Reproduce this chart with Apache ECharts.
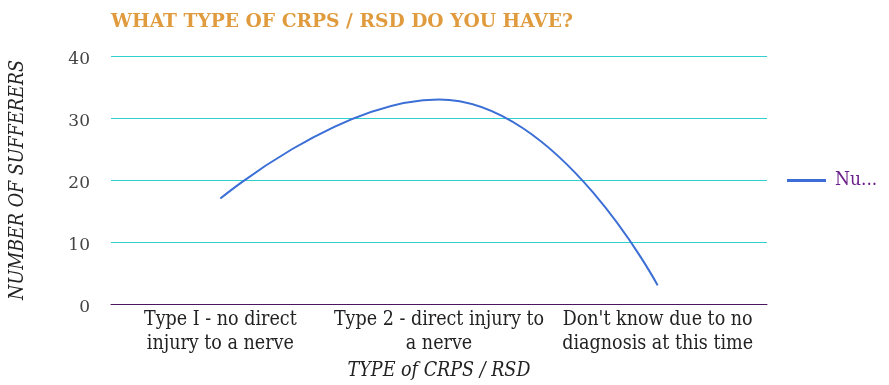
<!DOCTYPE html>
<html>
<head>
<meta charset="utf-8">
<script src="https://cdn.jsdelivr.net/npm/echarts@6/dist/echarts.min.js"></script>
<style>html,body{margin:0;padding:0;background:#fff;}#c{width:889px;height:385px;}</style>
</head>
<body>
<div id="c"></div>
<script>
const categories = ['Type I - no direct\ninjury to a nerve', 'Type 2 - direct injury to\na nerve', "Don't know due to no\ndiagnosis at this time"];
const sufferers = [17, 33, 3];
const yTicks = [0, 10, 20, 30, 40];
const seriesName = 'Number of sufferers';

const chart = echarts.init(document.getElementById('c'));
chart.setOption({
  animation: false,
  title: {
    text: 'WHAT TYPE OF CRPS / RSD DO YOU HAVE?',
    left: 106, top: 8,
    textStyle: { fontFamily: 'DejaVu Serif', fontWeight: 'bold', fontSize: 18.7, color: '#E09B3E' }
  },
  legend: {
    left: 787, top: 171, padding: 0,
    icon: 'rect', itemWidth: 39, itemHeight: 3,
    data: [seriesName],
    formatter: function (n) { return n.slice(0, 2) + '...'; },
    textStyle: { fontFamily: 'DejaVu Serif Condensed', fontSize: 19, color: '#6B1F8A', padding: [0, 0, 0, 4] }
  },
  grid: { left: 111, right: 122, top: 56, bottom: 81, outerBoundsMode: 'none', containLabel: false },
  xAxis: {
    type: 'category',
    data: categories,
    name: 'TYPE of CRPS / RSD',
    nameLocation: 'middle',
    nameGap: 48,
    nameTextStyle: { fontFamily: 'DejaVu Serif Condensed', fontStyle: 'italic', fontSize: 19.5, color: '#222' },
    axisLine: { lineStyle: { color: '#4B1560', width: 1 } },
    axisTick: { show: false },
    axisLabel: { fontFamily: 'DejaVu Serif Condensed', fontSize: 19.5, color: '#222', lineHeight: 24, margin: 4, interval: 0 }
  },
  yAxis: {
    type: 'value',
    min: yTicks[0], max: yTicks[yTicks.length - 1], interval: 10,
    name: 'NUMBER OF SUFFERERS',
    nameLocation: 'middle',
    nameGap: 83,
    nameTextStyle: { fontFamily: 'DejaVu Serif Condensed', fontStyle: 'italic', fontSize: 19.5, color: '#222' },
    axisLine: { show: false },
    axisTick: { show: false },
    axisLabel: { fontFamily: 'DejaVu Serif', fontSize: 17, color: '#444', margin: 21, verticalAlign: 'top', lineHeight: 7 },
    splitLine: { lineStyle: { color: '#30D0CC', width: 1 } }
  },
  series: [{
    name: seriesName,
    type: 'line',
    data: sufferers,
    smooth: 0.5,
    showSymbol: false,
    symbol: 'none',
    lineStyle: { color: '#3B6FD6', width: 2 },
    itemStyle: { color: '#3B6FD6' }
  }]
});
</script>
</body>
</html>
